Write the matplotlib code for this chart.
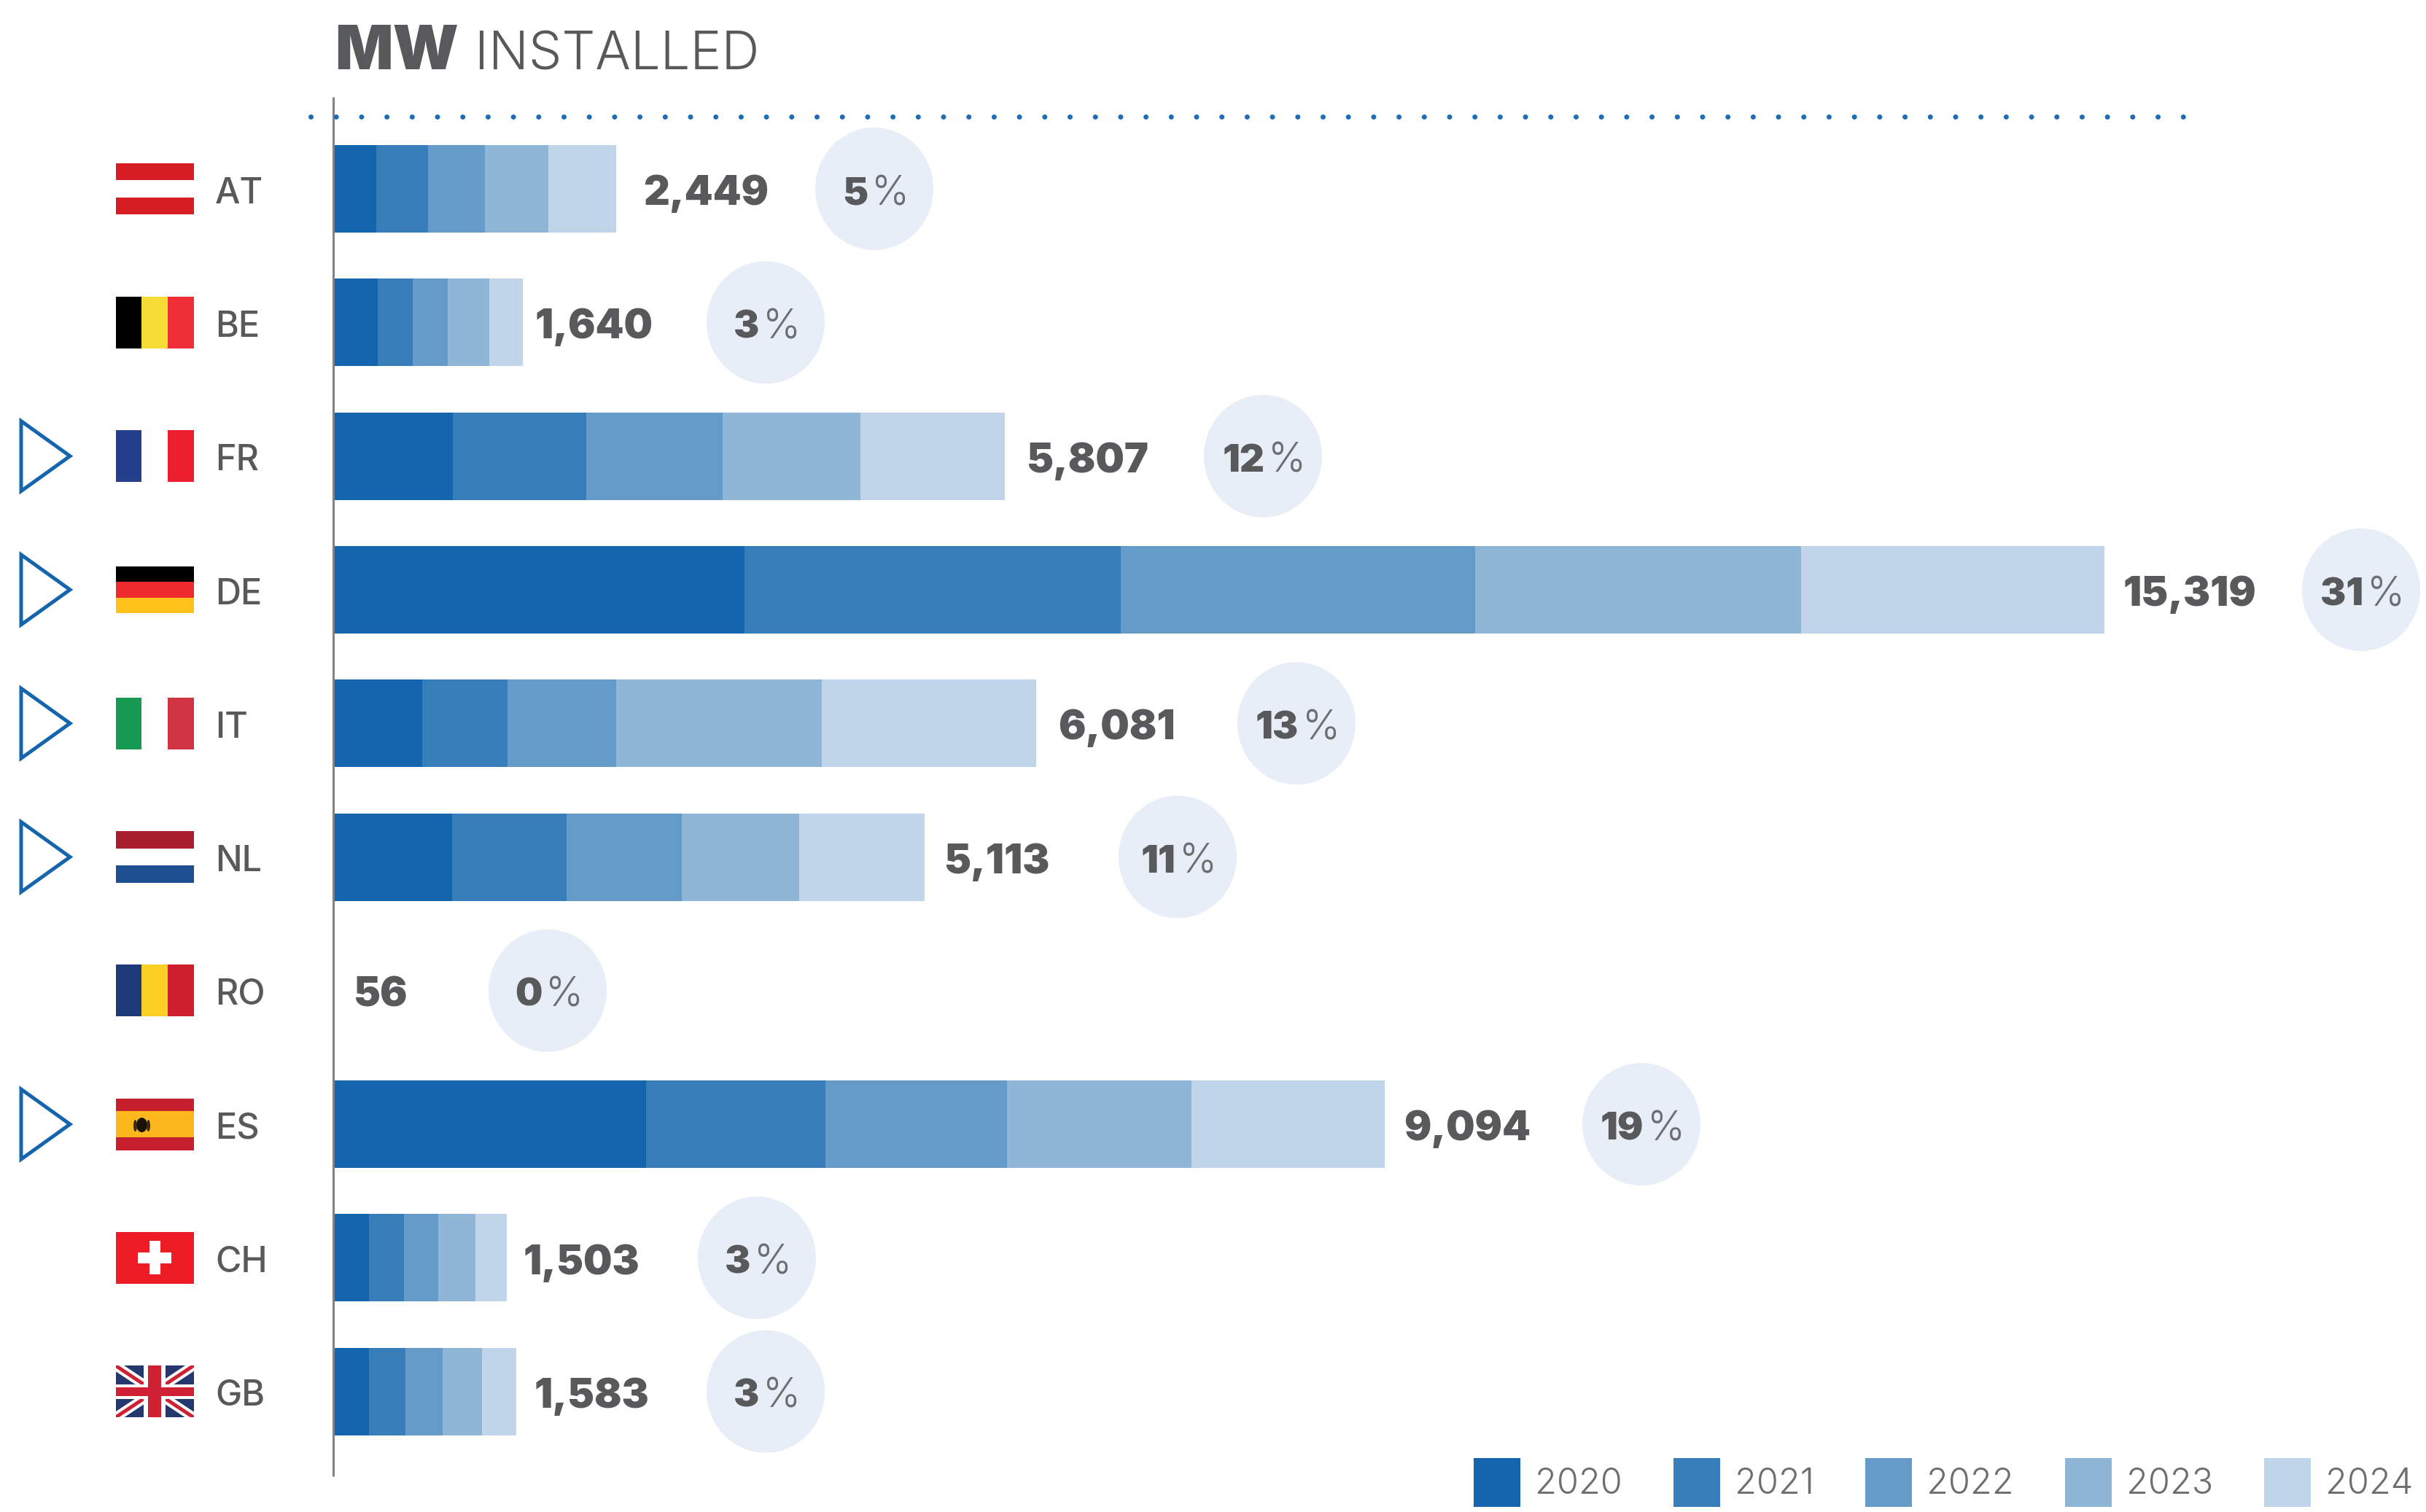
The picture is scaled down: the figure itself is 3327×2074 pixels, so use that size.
import matplotlib
matplotlib.use("Agg")
import matplotlib.pyplot as plt
from matplotlib.font_manager import FontProperties
from matplotlib.patches import Ellipse, Polygon, Rectangle
from matplotlib.transforms import Affine2D

# Installed capacity in MW per country and year
countries = ["AT", "BE", "FR", "DE", "IT", "NL", "RO", "ES", "CH", "GB"]
years = ["2020", "2021", "2022", "2023", "2024"]
mw_2020 = [375, 386, 1033, 3559, 767, 1028, 0, 2705, 311, 311]
mw_2021 = [442, 303, 1153, 3251, 740, 988, 0, 1554, 298, 311]
mw_2022 = [495, 303, 1180, 3064, 942, 1001, 0, 1567, 298, 325]
mw_2023 = [549, 358, 1194, 2823, 1776, 1015, 0, 1594, 325, 338]
mw_2024 = [588, 290, 1247, 2622, 1856, 1081, 0, 1674, 271, 298]
totals = [2449, 1640, 5807, 15319, 6081, 5113, 56, 9094, 1503, 1583]
shares = [5, 3, 12, 31, 13, 11, 0, 19, 3, 3]
highlighted = ["FR", "DE", "IT", "NL", "ES"]

year_colors = ["#1565ae", "#377dba", "#659bc8", "#8fb6d7", "#c0d5e9"]
TEXT = "#58595b"
BUBBLE = "#e7eef7"
BLUE = "#1565ae"

W, H = 3327, 2074
X0 = 457.0           # pixel position of the zero line
PX_PER_MW = 2429.0 / 15319.0
ROW0 = 259.0
ROW_STEP = 183.3
BAR_PX = 120.0

value_gap_px = [37, 16, 29, 25, 30, 26, 18, 26, 22, 24]
bubble_x_px = [1199, 1050, 1732, 3238, 1778, 1615, 751, 2251, 1038, 1050]

fig = plt.figure(figsize=(W / 100, H / 100), dpi=100, facecolor="white")
ax = fig.add_axes([0, 0, 1, 1])
ax.set_xlim(-X0 / PX_PER_MW, (W - X0) / PX_PER_MW)
ax.set_ylim((H - ROW0) / ROW_STEP, -ROW0 / ROW_STEP)
ax.set_axis_off()

# Pixel space, origin at the top left, for furniture that is not data
px = Affine2D().scale(1, -1).translate(0, H)
PT = 0.72  # points per pixel at this resolution


def row_px(i):
    return ROW0 + ROW_STEP * i


# Stacked bars
rows = list(range(len(countries)))
left = [0] * len(countries)
for label, vals, color in zip(years, [mw_2020, mw_2021, mw_2022, mw_2023, mw_2024], year_colors):
    ax.barh(rows, vals, left=left, height=BAR_PX / ROW_STEP, color=color, linewidth=0, label=label, zorder=2)
    left = [a + b for a, b in zip(left, vals)]

# Baseline and dotted header rule
ax.plot([X0, X0], [133, 2025], color="#808284", lw=3 * PT, transform=px, zorder=3, solid_capstyle="butt")
ax.plot([426, 2998], [160, 160], color="#1e6cb5", lw=7 * PT, transform=px, zorder=3,
        linestyle=(0, (0.01, 4.947)), dash_capstyle="round")

# Title
ax.text(459, 95, "MW", transform=px, family="Inter", weight=900, size=60, color=TEXT, va="baseline")
ax.text(651, 95, "INSTALLED", transform=px, family="Inter", weight=300, size=52, color=TEXT, va="baseline")


def cap_text(x, y, s, size, weight, color=TEXT, ha="left"):
    cap = size / PT * 0.727
    return ax.text(x, y + cap / 2 + 2, s, transform=px, family="Inter", weight=weight, size=size,
                   color=color, va="baseline", ha=ha, zorder=5)


def stripes(y, colors, horizontal, h=71.0):
    x0, w = 158.5, 107.0
    n = len(colors)
    for k, c in enumerate(colors):
        if horizontal:
            r = Rectangle((x0, y - h / 2 + k * h / n), w, h / n, transform=px, fc=c, ec="none", zorder=3)
        else:
            r = Rectangle((x0 + k * w / n, y - h / 2), w / n, h, transform=px, fc=c, ec="none", zorder=3)
        ax.add_patch(r)


def flag_spain(y):
    x0, w, h = 158.5, 107.0, 71.0
    ax.add_patch(Rectangle((x0, y - h / 2), w, h, transform=px, fc="#c61f2e", ec="none", zorder=3))
    ax.add_patch(Rectangle((x0, y - h / 4), w, h / 2, transform=px, fc="#fcb71c", ec="none", zorder=3))
    ax.add_patch(Ellipse((x0 + 36, y + 1), 15, 20, transform=px, fc="#1a1209", ec="none", zorder=4))
    ax.add_patch(Ellipse((x0 + 27, y + 2), 5, 16, transform=px, fc="#3a2a10", ec="none", zorder=4))
    ax.add_patch(Ellipse((x0 + 45, y + 2), 5, 16, transform=px, fc="#3a2a10", ec="none", zorder=4))


def flag_swiss(y):
    x0, w, h = 158.5, 107.0, 71.0
    cx = x0 + w / 2
    ax.add_patch(Rectangle((x0, y - h / 2), w, h, transform=px, fc="#ed1c25", ec="none", zorder=3))
    ax.add_patch(Rectangle((cx - 23, y - 7.5), 46, 15, transform=px, fc="white", ec="none", zorder=4))
    ax.add_patch(Rectangle((cx - 7.5, y - 23), 15, 46, transform=px, fc="white", ec="none", zorder=4))


def flag_union(y):
    x0, w, h = 158.5, 107.0, 71.0
    field = Rectangle((x0, y - h / 2), w, h, transform=px, fc="#24386f", ec="none", zorder=3)
    ax.add_patch(field)
    for lw, color, z in [(13, "white", 4), (5, "#cf2034", 5)]:
        for ya, yb in [(y - h / 2, y + h / 2), (y + h / 2, y - h / 2)]:
            line, = ax.plot([x0, x0 + w], [ya, yb], color=color, lw=lw * PT, transform=px, zorder=z)
            line.set_clip_path(field)
    cx = x0 + w / 2
    ax.add_patch(Rectangle((x0, y - 10), w, 20, transform=px, fc="white", ec="none", zorder=6))
    ax.add_patch(Rectangle((cx - 15, y - h / 2), 30, h, transform=px, fc="white", ec="none", zorder=6))
    ax.add_patch(Rectangle((x0, y - 6), w, 12, transform=px, fc="#cf2034", ec="none", zorder=7))
    ax.add_patch(Rectangle((cx - 9, y - h / 2), 18, h, transform=px, fc="#cf2034", ec="none", zorder=7))


flag_painters = {
    "AT": lambda y: stripes(y, ["#d81e25", "white", "#d81e25"], True),
    "BE": lambda y: stripes(y, ["#000000", "#f6dc34", "#ee2e36"], False),
    "FR": lambda y: stripes(y, ["#253f8e", "white", "#ed1f2e"], False),
    "DE": lambda y: stripes(y, ["#000000", "#ee2a2c", "#fdc31a"], True, h=64.0),
    "IT": lambda y: stripes(y, ["#169a52", "white", "#cf3444"], False),
    "NL": lambda y: stripes(y, ["#a81e2f", "white", "#1c4e90"], True),
    "RO": lambda y: stripes(y, ["#1f3a78", "#fbcf23", "#cd1f2d"], False),
    "ES": flag_spain,
    "CH": flag_swiss,
    "GB": flag_union,
}

renderer = fig.canvas.get_renderer()

for i, code in enumerate(countries):
    y = row_px(i)

    if code in highlighted:
        ax.add_patch(Polygon([(29, y - 48), (96, y), (29, y + 48)], closed=True, transform=px,
                             fc="none", ec=BLUE, lw=5 * PT, joinstyle="miter", zorder=3))

    flag_painters[code](y)
    cap_text(295, y, code, 35, 500)

    # Total, placed just after the end of the bar
    vx = X0 + totals[i] * PX_PER_MW + value_gap_px[i]
    cap_text(vx, y, f"{totals[i]:,}", 40, 900)

    # Share bubble with its number and percent sign centred as a pair
    bx = bubble_x_px[i]
    ax.add_patch(Ellipse((bx, y), 162, 168, transform=px, fc=BUBBLE, ec="none", zorder=3))
    num = cap_text(0, y, str(shares[i]), 38, 900)
    pct = cap_text(0, y, "%", 40, 300, color="#6d6e71")
    wn = num.get_window_extent(renderer).width
    wp = pct.get_window_extent(renderer).width
    gap = 5
    start = bx + 2 - (wn + gap + wp) / 2
    num.set_x(start)
    pct.set_x(start + wn + gap)

leg = ax.legend(loc="lower left", bbox_to_anchor=(2021 / W, 7 / H), ncol=5, frameon=False,
                prop=FontProperties(family="Inter", weight=300, size=35),
                labelcolor="#6d6e71", borderpad=0, borderaxespad=0,
                handlelength=1.32, handleheight=1.745, handletextpad=0.41, columnspacing=1.44)

fig.savefig("out.png", dpi=100, facecolor="white")
